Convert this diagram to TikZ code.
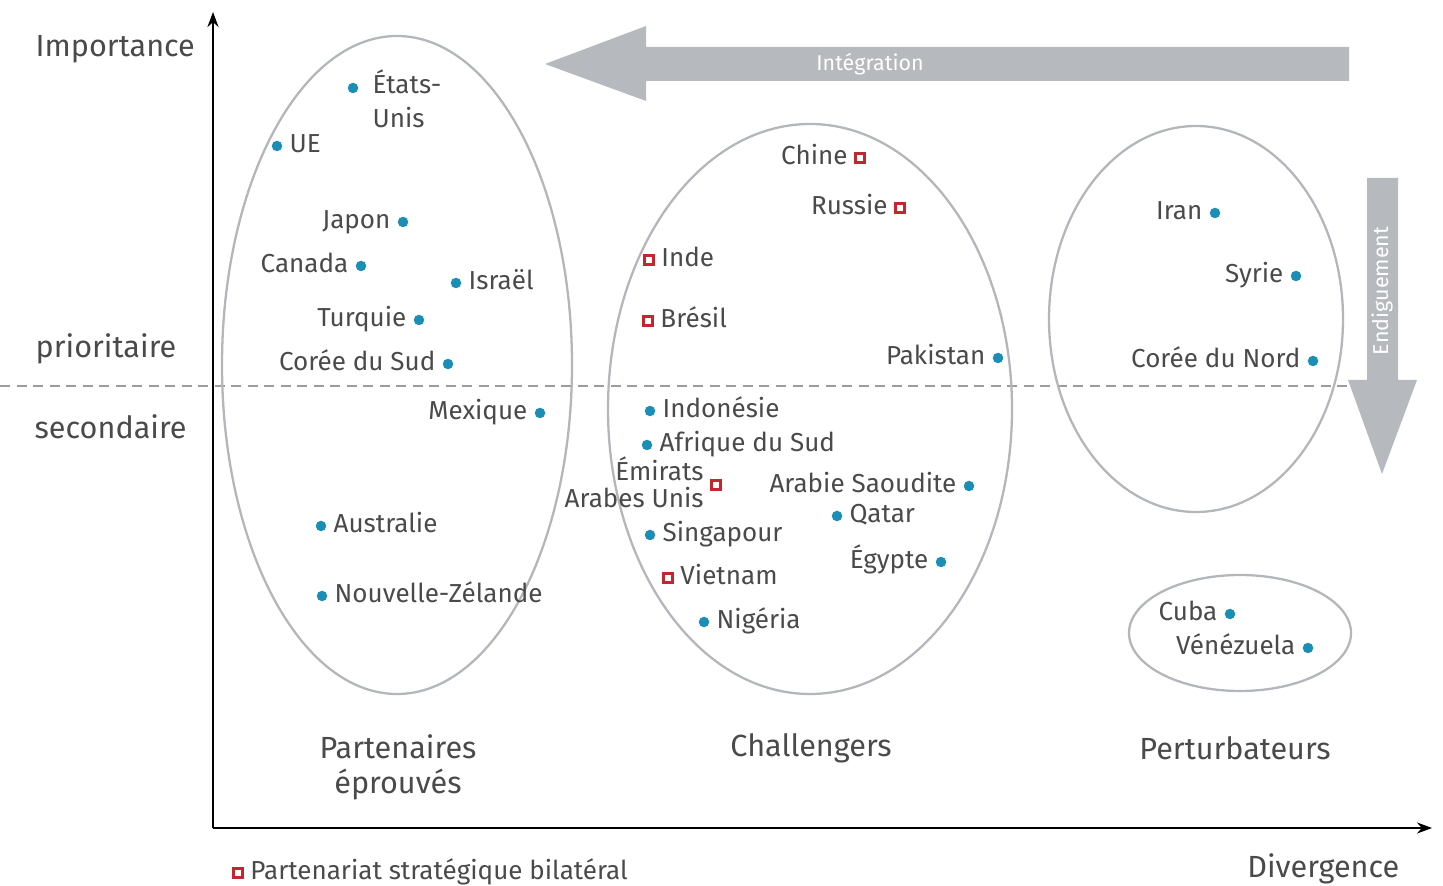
\documentclass[tikz,border=0pt]{standalone}
\usepackage{fontspec}
\setmainfont{Fira Sans}
\usetikzlibrary{positioning,arrows.meta}

\definecolor{ink}{HTML}{4A4A4A}
\definecolor{dotblue}{HTML}{1A8EB4}
\definecolor{sqred}{HTML}{C4262E}
\definecolor{ringgray}{HTML}{B3B6BA}
\definecolor{bandgray}{HTML}{B6BABF}
\definecolor{dashgray}{HTML}{9C9C9C}

\begin{document}
\begin{tikzpicture}[
    x=0.01cm, y=-0.01cm,
    every node/.style={text=ink, inner sep=0pt},
    pt/.style={circle, fill=dotblue, minimum size=0.105cm},
    sq/.style={rectangle, draw=sqred, line width=0.85pt, fill=white, minimum size=0.085cm},
    lbl/.style={font=\fontsize{7.4}{9}\selectfont, text height=5.2pt, text depth=1.5pt},
    axlbl/.style={font=\fontsize{8.7}{10}\selectfont, anchor=base west},
    grp/.style={font=\fontsize{8.7}{9.9}\selectfont, align=center, anchor=base},
    ring/.style={draw=ringgray, line width=0.65pt},
    band/.style={fill=bandgray},
    node distance=0.06cm
]
\useasboundingbox (0,0) rectangle (1443,886);

% ----- axes -----
\draw[dashgray, line width=0.6pt, dash pattern=on 0.1cm off 0.065cm] (0,386) -- (1360,386);
\draw[line width=0.7pt, -{Stealth[length=0.15cm, width=0.11cm]}] (213,828) -- (213,12);
\draw[line width=0.7pt, -{Stealth[length=0.15cm, width=0.11cm]}] (213,828) -- (1432,828);

\node[axlbl] (imp) at (35,57) {Importance};
\node[axlbl] (prio) at (35,358) {prioritaire};
\node[axlbl] (sec) at (34,439) {secondaire};
\node[axlbl, anchor=base east] (div) at (1400,877) {Divergence};

% ----- fleches -----
\fill[band] (1349,47) -- (646,47) -- (646,26) -- (545,64) -- (646,101) -- (646,81) -- (1349,81) -- cycle;
\node[font=\fontsize{6.1}{7}\selectfont, text=white] (integ) at (870,64) {Intégration};

\fill[band] (1367,178) -- (1398,178) -- (1398,380) -- (1417,380) -- (1382,474) -- (1348,380) -- (1367,380) -- cycle;
\node[font=\fontsize{6.1}{7}\selectfont, text=white, rotate=90] (endig) at (1382,291) {Endiguement};

% ----- groupes -----
\draw[ring] (397,365) ellipse [x radius=175, y radius=329];
\draw[ring] (810,409) ellipse [x radius=202, y radius=285];
\draw[ring] (1196,319) ellipse [x radius=147, y radius=193];
\draw[ring] (1240,633) ellipse [x radius=111, y radius=58];

\node[grp] (g1) at (398,793) {Partenaires\\éprouvés};
\node[grp] (g2) at (811,757) {Challengers};
\node[grp] (g3) at (1235,759) {Perturbateurs};

% ----- partenaires eprouves -----
\node[pt] (us) at (353,88) {};
\node[right=0.13cm of us, yshift=-0.11cm, font=\fontsize{7.4}{9.7}\selectfont, align=left] (us-t) {États-\\Unis};
\node[pt] (eu) at (277,146) {};
\node[lbl, right=of eu] (eu-t) {UE};
\node[pt] (jp) at (403,222) {};
\node[lbl, left=of jp] (jp-t) {Japon};
\node[pt] (ca) at (361,266) {};
\node[lbl, left=of ca] (ca-t) {Canada};
\node[pt] (il) at (456,283) {};
\node[lbl, right=of il] (il-t) {Israël};
\node[pt] (tr) at (419,320) {};
\node[lbl, left=of tr] (tr-t) {Turquie};
\node[pt] (kr) at (448,364) {};
\node[lbl, left=of kr] (kr-t) {Corée du Sud};
\node[pt] (mx) at (540,413) {};
\node[lbl, left=of mx] (mx-t) {Mexique};
\node[pt] (au) at (321,526) {};
\node[lbl, right=of au] (au-t) {Australie};
\node[pt] (nz) at (322,596) {};
\node[lbl, right=of nz] (nz-t) {Nouvelle-Zélande};

% ----- challengers -----
\node[sq] (cn) at (860,158) {};
\node[lbl, left=of cn] (cn-t) {Chine};
\node[sq] (ru) at (900,208) {};
\node[lbl, left=of ru] (ru-t) {Russie};
\node[sq] (ind) at (649,260) {};
\node[lbl, right=of ind] (ind-t) {Inde};
\node[sq] (br) at (648,321) {};
\node[lbl, right=of br] (br-t) {Brésil};
\node[pt] (pk) at (998,358) {};
\node[lbl, left=of pk] (pk-t) {Pakistan};
\node[pt] (id) at (650,411) {};
\node[lbl, right=of id] (id-t) {Indonésie};
\node[pt] (za) at (647,445) {};
\node[lbl, right=of za] (za-t) {Afrique du Sud};
\node[sq] (ae) at (716,485) {};
\node[left=of ae, yshift=0.03cm, font=\fontsize{7.4}{7.7}\selectfont, align=right] (ae-t) {Émirats\\Arabes Unis};
\node[pt] (sa) at (969,486) {};
\node[lbl, left=of sa] (sa-t) {Arabie Saoudite};
\node[pt] (qa) at (837,516) {};
\node[lbl, right=of qa] (qa-t) {Qatar};
\node[pt] (sg) at (650,535) {};
\node[lbl, right=of sg] (sg-t) {Singapour};
\node[pt] (eg) at (941,562) {};
\node[lbl, left=of eg] (eg-t) {Égypte};
\node[sq] (vn) at (668,578) {};
\node[lbl, right=of vn] (vn-t) {Vietnam};
\node[pt] (ng) at (704,622) {};
\node[lbl, right=of ng] (ng-t) {Nigéria};

% ----- perturbateurs -----
\node[pt] (ir) at (1215,213) {};
\node[lbl, left=of ir] (ir-t) {Iran};
\node[pt] (sy) at (1296,276) {};
\node[lbl, left=of sy] (sy-t) {Syrie};
\node[pt] (kp) at (1313,361) {};
\node[lbl, left=of kp] (kp-t) {Corée du Nord};
\node[pt] (cu) at (1230,614) {};
\node[lbl, left=of cu] (cu-t) {Cuba};
\node[pt] (ve) at (1308,648) {};
\node[lbl, left=of ve] (ve-t) {Vénézuela};

% ----- legende -----
\node[sq] (leg) at (238,873) {};
\node[lbl, right=of leg] (leg-t) {Partenariat stratégique bilatéral};

\end{tikzpicture}
\end{document}
